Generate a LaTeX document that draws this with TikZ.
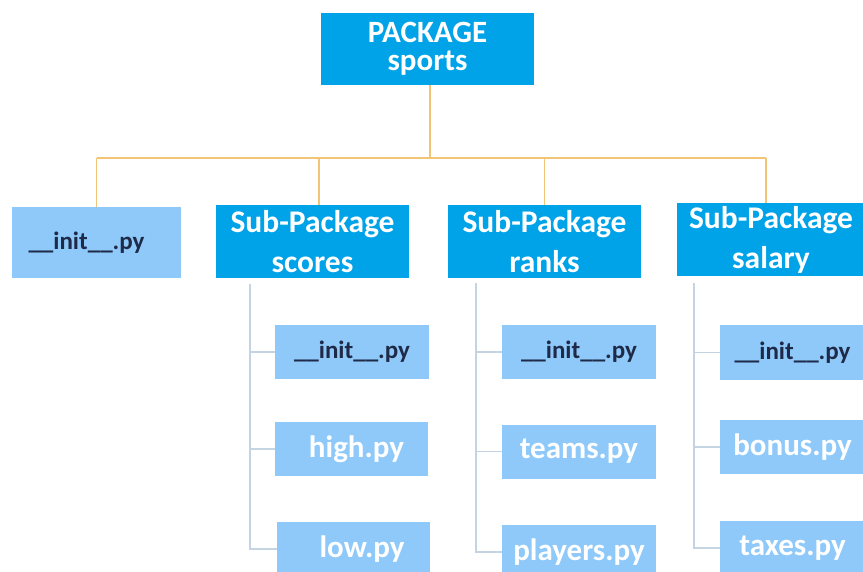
\documentclass[tikz,border=0pt]{standalone}
\usepackage{fontspec}
\setmainfont{Carlito}
\definecolor{pkgblue}{RGB}{0,162,232}
\definecolor{modblue}{RGB}{142,201,250}
\definecolor{navytext}{RGB}{30,42,72}
\definecolor{busline}{RGB}{242,196,120}
\definecolor{treeline}{RGB}{196,212,226}
\tikzset{
  pkgbox/.style={rectangle, fill=pkgblue, text=white, inner sep=0pt, align=center,
    font=\fontsize{31.5}{40}\selectfont\bfseries},
  modbox/.style={rectangle, fill=modblue, text=white, inner sep=0pt, align=center,
    minimum width=154pt, minimum height=54pt,
    font=\fontsize{31}{36}\selectfont\bfseries},
  initbox/.style={modbox, text=navytext, font=\fontsize{25}{30}\selectfont\bfseries},
  bus/.style={draw=busline, line width=1.6pt},
  tree/.style={draw=treeline, line width=1.4pt},
}
\begin{document}
\begin{tikzpicture}[x=1pt,y=-1pt]
  \useasboundingbox (0,0) rectangle (863,572);
  \clip (0,0) rectangle (863,572);
  \fill[white] (0,0) rectangle (863,572);

  % top-level package
  \node[pkgbox, minimum width=213pt, minimum height=72pt,
        font=\fontsize{31}{28}\selectfont\bfseries] (pkg) at (427.5,49) {PACKAGE\\sports};

  % second level
  \node[initbox, minimum width=169pt, minimum height=71pt] (init0) at (96.5,242.5)
        {\hspace*{-20pt}\_\_init\_\_.py};
  \node[pkgbox, minimum width=193pt, minimum height=73pt] (scores) at (312.5,241.5) {Sub-Package\\scores};
  \node[pkgbox, minimum width=193pt, minimum height=73pt] (ranks) at (544.5,241.5) {Sub-Package\\ranks};
  \node[pkgbox, minimum width=188pt, minimum height=73pt] (salary) at (771,239.5) {Sub-Package\\salary};

  % package bus and its drops
  \coordinate (top) at ([xshift=2.5pt]pkg.south);
  \coordinate (d0) at (init0.north);
  \coordinate (d1) at ([xshift=6.5pt]scores.north);
  \coordinate (d2) at (ranks.north);
  \coordinate (d3) at ([xshift=-5pt]salary.north);
  \draw[bus] (top) -- ++(0,73) coordinate (busmid);
  \draw[bus] (busmid -| d0) -- (busmid -| d3);
  \foreach \d in {d0, d1, d2, d3}
    \draw[bus] (busmid -| \d) -- (\d);

  % modules of scores
  \node[initbox] (si1) at (352,352) {\_\_init\_\_.py};
  \node[modbox, minimum width=153pt] (sh1) at (351.5,449) {\hspace*{10pt}high.py};
  \node[modbox, minimum width=153pt] (sl1) at (353.5,549) {\hspace*{17pt}low.py};
  \coordinate (t1) at (250,284);
  \foreach \n in {si1, sh1, sl1} \draw[tree] (t1) |- (\n.west);

  % modules of ranks
  \node[initbox] (ri2) at (579,352) {\_\_init\_\_.py};
  \node[modbox] (rt2) at (579,451.5) {teams.py};
  \node[modbox] (rp2) at (579,552) {players.py};
  \coordinate (t2) at (476,283);
  \foreach \n in {ri2, rt2, rp2} \draw[tree] (t2) |- (\n.west);

  % modules of salary
  \node[initbox, minimum width=145pt] (si3) at (792.5,352.5) {\_\_init\_\_.py};
  \node[modbox, minimum width=145pt] (sb3) at (792.5,447) {bonus.py};
  \node[modbox, minimum width=145pt] (st3) at (792.5,548) {taxes.py};
  \coordinate (t3) at (694,283);
  \foreach \n in {si3, sb3, st3} \draw[tree] (t3) |- (\n.west);
\end{tikzpicture}
\end{document}
